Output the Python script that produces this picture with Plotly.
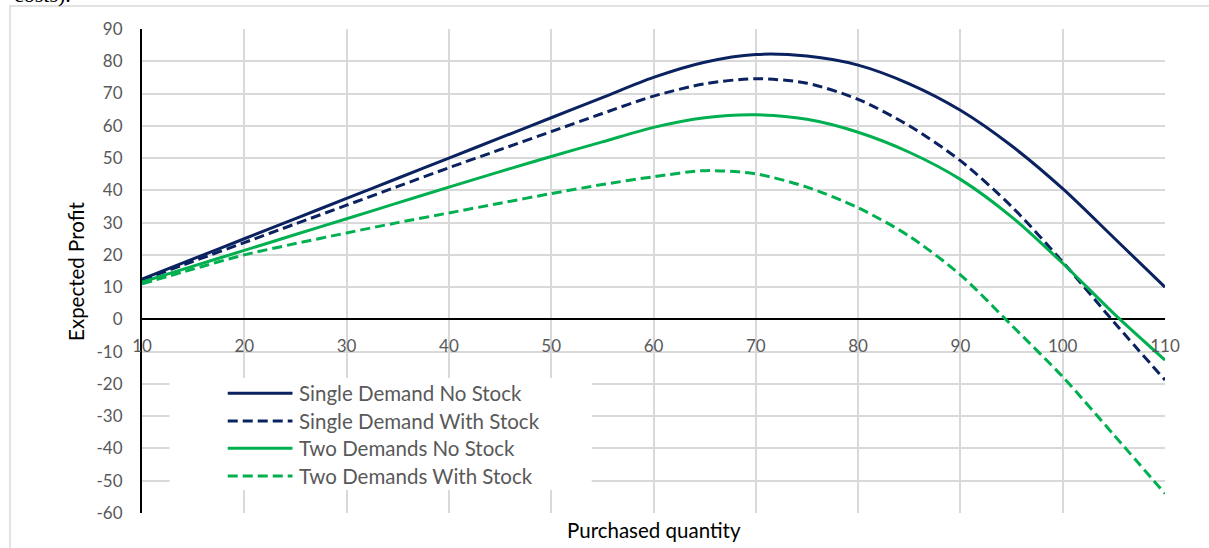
import plotly.graph_objects as go

# Purchased quantity (x) and expected profit for each scenario
quantity = [10, 15, 20, 25, 30, 35, 40, 45, 50, 55, 60, 65, 70, 75, 80, 85, 90, 95, 100, 105, 110]

single_no_stock = [12.5, 18.75, 25.0, 31.25, 37.5, 43.75, 50.0, 56.25, 62.5, 68.75, 75.0,
                   79.7, 82.1, 81.6, 78.8, 73.0, 64.8, 53.8, 40.5, 25.3, 10.0]
single_with_stock = [12.2, 18.0, 23.8, 29.6, 35.4, 41.2, 47.0, 52.6, 58.2, 63.8, 69.2,
                     73.0, 74.6, 73.2, 68.2, 60.0, 49.2, 35.0, 17.8, -0.8, -18.8]
two_no_stock = [11.6, 16.5, 21.4, 26.3, 31.2, 36.1, 41.0, 45.8, 50.5, 55.0, 59.5,
                62.5, 63.4, 62.0, 58.0, 51.8, 43.4, 31.8, 17.4, 1.8, -12.6]
two_with_stock = [11.0, 15.6, 20.0, 23.5, 26.8, 30.0, 33.0, 36.0, 39.0, 41.8, 44.2,
                  46.1, 45.1, 41.0, 34.6, 25.8, 13.8, -1.8, -17.8, -35.8, -54.0]

series_names = ["Single Demand No Stock", "Single Demand With Stock",
                "Two Demands No Stock", "Two Demands With Stock"]
series_values = [single_no_stock, single_with_stock, two_no_stock, two_with_stock]

x_ticks = list(range(10, 111, 10))
y_ticks = list(range(-60, 91, 10))

NAVY = "#0b2260"
GREEN = "#00b050"
styles = [(NAVY, "solid"), (NAVY, "10px,5px"), (GREEN, "solid"), (GREEN, "10px,5px")]

TICK_FONT = dict(family="Lato", size=17, color="#595959")
GRID = "#d9d9d9"

fig = go.Figure()
for name, values, (color, dash) in zip(series_names, series_values, styles):
    fig.add_trace(go.Scatter(
        x=quantity, y=values, name=name, mode="lines",
        line=dict(color=color, width=3, dash=dash, shape="spline", smoothing=0.8),
        showlegend=False,
    ))

fig.update_layout(
    width=1209, height=548,
    margin=dict(l=142, r=44, t=29, b=35),
    paper_bgcolor="white", plot_bgcolor="white",
    xaxis=dict(
        range=[10, 110], tickvals=x_ticks, ticktext=[str(v) for v in x_ticks],
        showgrid=True, gridcolor=GRID, gridwidth=1.5,
        zeroline=False, showline=False, ticks="",
        anchor="free", position=0.4, tickfont=TICK_FONT, ticklabelstandoff=15,
    ),
    yaxis=dict(
        range=[-60, 90], tickvals=y_ticks, ticktext=[str(v) for v in y_ticks],
        showgrid=True, gridcolor=GRID, gridwidth=1.5,
        zeroline=True, zerolinecolor="black", zerolinewidth=1.5,
        showline=True, linecolor="black", linewidth=2, ticks="",
        tickfont=TICK_FONT, ticklabelstandoff=14,
    ),
    showlegend=False,
)

# Outer chart frame
fig.add_shape(type="rect", xref="paper", yref="paper",
              x0=-0.129, x1=1.2, y0=-0.3, y1=1.0475,
              line=dict(color=GRID, width=1.5), fillcolor="rgba(0,0,0,0)", layer="below")

# Legend box with line samples and labels
fig.add_shape(type="rect", xref="x domain", yref="y domain",
              x0=0.027, x1=0.4396, y0=0.0476, y1=0.279,
              line=dict(width=0), fillcolor="white", layer="above")
legend_rows = [0.2475, 0.1902, 0.1338, 0.0765]
for name, (color, dash), yy in zip(series_names, styles, legend_rows):
    fig.add_shape(type="line", xref="x domain", yref="y domain",
                  x0=0.0838, x1=0.1471, y0=yy, y1=yy,
                  line=dict(color=color, width=3, dash=dash), layer="above")
    fig.add_annotation(xref="x domain", yref="y domain", x=0.152, y=yy,
                       text=name, showarrow=False, xanchor="left", yanchor="middle",
                       font=dict(family="Lato", size=20.5, color="#595959"))

# Axis titles
fig.add_annotation(xref="paper", yref="paper", x=0.5, y=-0.0351,
                   text="Purchased quantity", showarrow=False,
                   xanchor="center", yanchor="middle",
                   font=dict(family="Lato", size=20.5, color="black"))
fig.add_annotation(xref="paper", yref="paper", x=-0.0646, y=0.5,
                   text="Expected Profit", showarrow=False, textangle=-90,
                   xanchor="center", yanchor="middle",
                   font=dict(family="Lato", size=20.5, color="black"))

# Tail of the surrounding document text
fig.add_annotation(xref="paper", yref="paper", x=-0.127, y=1.0413,
                   text="costs).", showarrow=False, xanchor="left", yanchor="bottom",
                   font=dict(family="Liberation Serif", size=22, color="black"))

fig.write_html("out.html")
